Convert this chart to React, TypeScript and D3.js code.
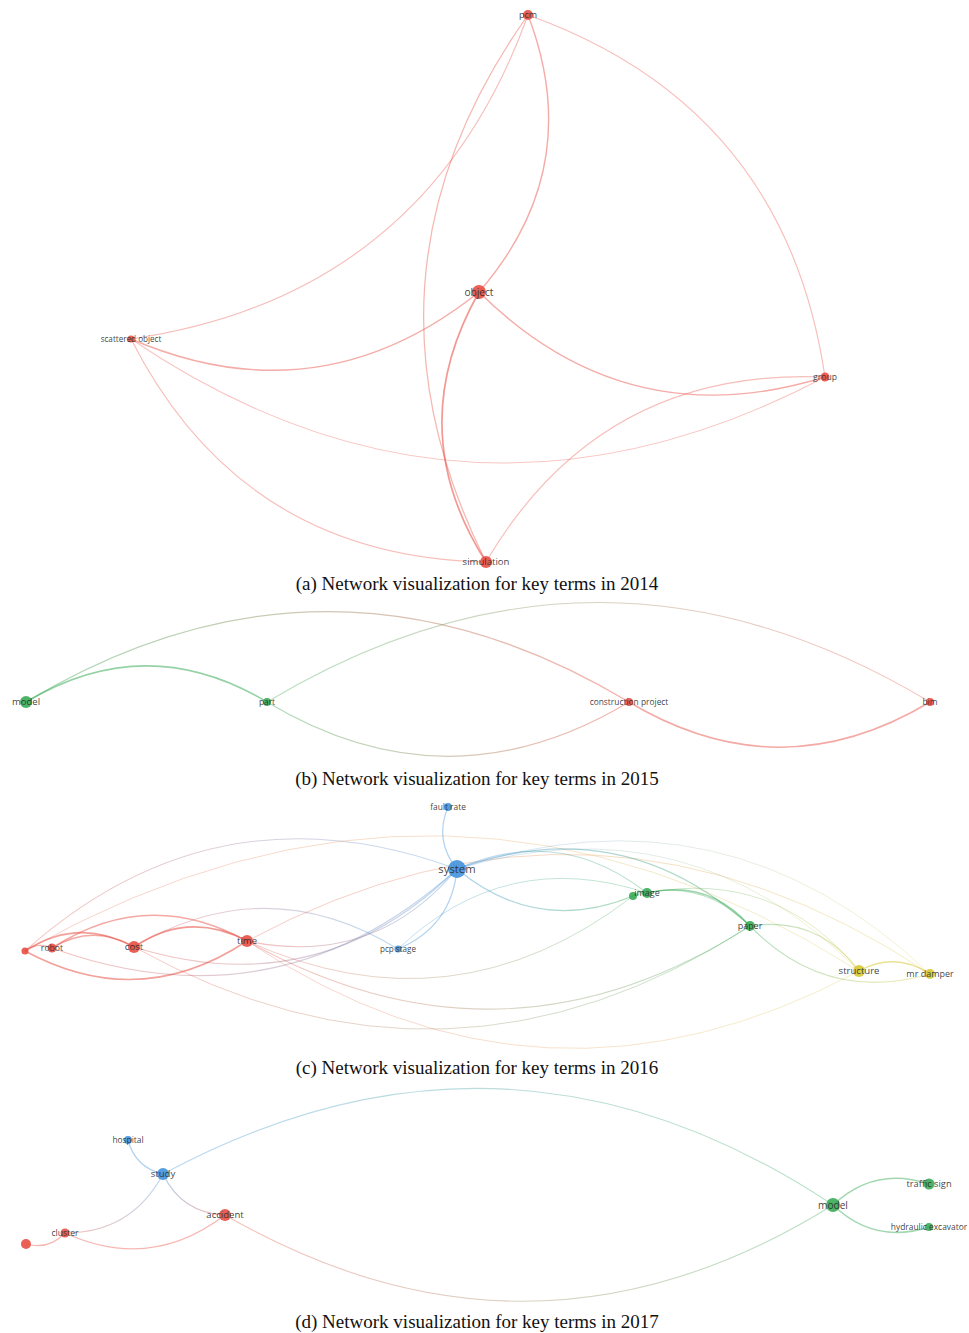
import React from 'react';
import * as d3 from 'd3';

const W = 969;
const H = 1333;

const CLUSTER_COLORS: Record<string, string> = {
  red: '#e84a3f',
  green: '#33a852',
  blue: '#3d8fd9',
  yellow: '#d6c62f',
};

// ---------- Panel (a) 2014 ----------
const termsA = ['pcm', 'object', 'scattered object', 'group', 'simulation'];
const labelsA = ['pcm', 'object', 'scattered object', 'group', 'simulation'];
const xA = [528, 479, 131, 825, 486];
const yA = [15, 292, 339, 377, 562];
const weightA = [2.8, 5.4, 1.4, 2.2, 4.0];
const clusterA = ['red', 'red', 'red', 'red', 'red'];
const linkSrcA = ['pcm', 'pcm', 'pcm', 'pcm', 'scattered object', 'scattered object', 'scattered object', 'object', 'object', 'simulation'];
const linkTgtA = ['scattered object', 'object', 'group', 'simulation', 'object', 'group', 'simulation', 'group', 'simulation', 'group'];
const linkBendA = [-1, -1, -1, 1, 1, 1, 1, 1, 1, -1];
const linkStrA = [1, 1.5, 1, 1.2, 1.5, 0.8, 1, 1.5, 2, 1];

// ---------- Panel (b) 2015 ----------
const termsB = ['model', 'part', 'construction project', 'bim'];
const labelsB = ['model', 'part', 'construction project', 'bim'];
const xB = [26, 267, 629, 930];
const yB = [102, 102, 102, 102];
const weightB = [4.0, 1.8, 1.8, 1.8];
const clusterB = ['green', 'green', 'red', 'red'];
const linkSrcB = ['model', 'model', 'part', 'part', 'construction project'];
const linkTgtB = ['part', 'construction project', 'bim', 'construction project', 'bim'];
const linkBendB = [-1, -1, -1, 1, 1];
const linkStrB = [1.8, 1.3, 0.9, 1.2, 1.6];

// ---------- Panel (c) 2016 ----------
const termsC = ['n0', 'robot', 'cost', 'time', 'pcp stage', 'fault rate', 'system', 'n7', 'image', 'paper', 'structure', 'mr damper'];
const labelsC = ['', 'robot', 'cost', 'time', 'pcp stage', 'fault rate', 'system', '', 'image', 'paper', 'structure', 'mr damper'];
const xC = [25, 52, 134, 247, 398, 448, 457, 633, 647, 750, 859, 930];
const yC = [161, 158, 157, 151, 159, 17, 79, 106, 103, 136, 181, 184];
const weightC = [1.4, 2.2, 4.0, 4.0, 1.4, 1.8, 9.0, 1.8, 2.8, 2.8, 4.0, 2.8];
const clusterC = ['red', 'red', 'red', 'red', 'blue', 'blue', 'blue', 'green', 'green', 'green', 'yellow', 'yellow'];
const linkSrcC = [
  'n0', 'n0', 'n0', 'robot', 'robot', 'cost',
  'n0', 'robot', 'cost', 'time', 'cost',
  'time', 'time', 'cost', 'n0', 'time', 'time',
  'fault rate', 'system', 'system', 'system', 'system', 'pcp stage',
  'image', 'n7', 'image', 'system', 'system', 'paper', 'paper', 'structure', 'n7',
];
const linkTgtC = [
  'robot', 'cost', 'time', 'cost', 'time', 'time',
  'system', 'system', 'system', 'system', 'pcp stage',
  'n7', 'paper', 'paper', 'structure', 'mr damper', 'structure',
  'system', 'pcp stage', 'n7', 'paper', 'image', 'image',
  'paper', 'paper', 'structure', 'structure', 'mr damper', 'structure', 'mr damper', 'mr damper', 'image',
];
const linkBendC = [
  -1, -1, 1, -1, -1, -1,
  -1, 1, 1, 1, -1,
  1, 1, 1, -1, -1, 1,
  1, -1, 1, -1, -1, -1,
  -1, -1, -1, -1, -1, -1, 1, -1, -1,
];
const linkStrC = [
  1.2, 1.8, 1.8, 1.6, 1.6, 2.0,
  0.8, 0.9, 0.9, 1.0, 0.8,
  0.7, 0.8, 0.7, 0.6, 0.7, 0.6,
  1.2, 1.2, 1.2, 1.2, 0.9, 0.7,
  1.6, 1.0, 0.7, 0.5, 0.5, 1.0, 1.0, 1.8, 1.0,
];

// ---------- Panel (d) 2017 ----------
const termsD = ['hospital', 'study', 'accident', 'cluster', 'n4', 'model', 'traffic sign', 'hydraulic excavator'];
const labelsD = ['hospital', 'study', 'accident', 'cluster', '', 'model', 'traffic sign', 'hydraulic excavator'];
const xD = [128, 163, 225, 65, 26, 833, 929, 929];
const yD = [60, 94, 135, 153, 164, 125, 104, 147];
const weightD = [1.8, 4.0, 4.0, 2.2, 2.8, 5.4, 3.4, 1.8];
const clusterD = ['blue', 'blue', 'red', 'red', 'red', 'green', 'green', 'green'];
const linkSrcD = ['hospital', 'study', 'study', 'study', 'cluster', 'n4', 'accident', 'model', 'model'];
const linkTgtD = ['study', 'model', 'cluster', 'accident', 'accident', 'cluster', 'model', 'traffic sign', 'hydraulic excavator'];
const linkBendD = [1, -1, -1, 1, 1, 1, 1, -1, 1];
const linkStrD = [1.2, 0.9, 1.0, 1.2, 1.2, 1.2, 0.9, 1.5, 1.5];

// ---------- Captions ----------
const captions = [
  '(a) Network visualization for key terms in 2014',
  '(b) Network visualization for key terms in 2015',
  '(c) Network visualization for key terms in 2016',
  '(d) Network visualization for key terms in 2017',
];
const captionY = [590, 785, 1074, 1328];
const panelTop = [0, 600, 790, 1080];
const panelH = [575, 180, 275, 230];

const CURVE = 0.3;

const radius = d3.scaleSqrt().domain([0, 10]).range([0, 9.5]);
const fontSize = d3.scaleSqrt().domain([1, 10]).range([7.8, 11.6]);

type PanelSpec = {
  id: string;
  terms: string[];
  labels: string[];
  xs: number[];
  ys: number[];
  weights: number[];
  clusters: string[];
  src: string[];
  tgt: string[];
  bend: number[];
  str: number[];
};

const panels: PanelSpec[] = [
  { id: 'a', terms: termsA, labels: labelsA, xs: xA, ys: yA, weights: weightA, clusters: clusterA, src: linkSrcA, tgt: linkTgtA, bend: linkBendA, str: linkStrA },
  { id: 'b', terms: termsB, labels: labelsB, xs: xB, ys: yB, weights: weightB, clusters: clusterB, src: linkSrcB, tgt: linkTgtB, bend: linkBendB, str: linkStrB },
  { id: 'c', terms: termsC, labels: labelsC, xs: xC, ys: yC, weights: weightC, clusters: clusterC, src: linkSrcC, tgt: linkTgtC, bend: linkBendC, str: linkStrC },
  { id: 'd', terms: termsD, labels: labelsD, xs: xD, ys: yD, weights: weightD, clusters: clusterD, src: linkSrcD, tgt: linkTgtD, bend: linkBendD, str: linkStrD },
];

function Panel({ spec, index }: { spec: PanelSpec; index: number }) {
  const xScale = d3.scaleLinear().domain([0, W]).range([0, W]);
  const yScale = d3.scaleLinear().domain([0, panelH[index]]).range([panelTop[index], panelTop[index] + panelH[index]]);
  const nodes = spec.terms.map((t, i) => ({
    id: t,
    label: spec.labels[i],
    x: xScale(spec.xs[i]),
    y: yScale(spec.ys[i]),
    r: radius(spec.weights[i]),
    fs: fontSize(spec.weights[i]),
    color: CLUSTER_COLORS[spec.clusters[i]],
  }));
  const byId = new Map(nodes.map((n) => [n.id, n]));
  const links = spec.src.map((s, i) => {
    const a = byId.get(s)!;
    const b = byId.get(spec.tgt[i])!;
    const dx = b.x - a.x;
    const dy = b.y - a.y;
    const len = Math.hypot(dx, dy);
    const nx = -dy / len;
    const ny = dx / len;
    const mx = (a.x + b.x) / 2;
    const my = (a.y + b.y) / 2;
    const cx = mx + spec.bend[i] * CURVE * len * nx;
    const cy = my + spec.bend[i] * CURVE * len * ny;
    const p = d3.path();
    p.moveTo(a.x, a.y);
    p.quadraticCurveTo(cx, cy, b.x, b.y);
    return { a, b, d: p.toString(), s: spec.str[i], gid: `g-${spec.id}-${i}` };
  });
  return (
    <g>
      <defs>
        {links.map((l) => (
          <linearGradient key={l.gid} id={l.gid} gradientUnits="userSpaceOnUse" x1={l.a.x} y1={l.a.y} x2={l.b.x} y2={l.b.y}>
            <stop offset="0%" stopColor={l.a.color} />
            <stop offset="100%" stopColor={l.b.color} />
          </linearGradient>
        ))}
      </defs>
      <g fill="none">
        {links.map((l) => (
          <path
            key={l.gid}
            d={l.d}
            stroke={`url(#${l.gid})`}
            strokeWidth={0.6 + 0.55 * l.s}
            strokeOpacity={Math.min(0.7, 0.16 + 0.2 * l.s)}
          />
        ))}
      </g>
      <g>
        {nodes.map((n) => (
          <circle key={n.id} cx={n.x} cy={n.y} r={n.r} fill={n.color} fillOpacity={0.88} />
        ))}
      </g>
      <g fontFamily="'Open Sans', 'Noto Sans', sans-serif" fill="#2b2b2b" textAnchor="middle">
        {nodes
          .filter((n) => n.label)
          .map((n) => (
            <text key={n.id} x={n.x} y={n.y} dy="0.35em" fontSize={n.fs} fillOpacity={0.9}>
              {n.label}
            </text>
          ))}
      </g>
    </g>
  );
}

export default function App() {
  return (
    <svg
      width={W}
      height={H}
      viewBox={`0 0 ${W} ${H}`}
      style={{ position: 'absolute', left: 0, top: 0, background: '#fff' }}
    >
      <rect x={0} y={0} width={W} height={H} fill="#fff" />
      {panels.map((p, i) => (
        <Panel key={p.id} spec={p} index={i} />
      ))}
      <g fontFamily="'Liberation Serif', 'Times New Roman', serif" fontSize={19} fill="#111" textAnchor="middle">
        {captions.map((c, i) => (
          <text key={c} x={477} y={captionY[i]}>
            {c}
          </text>
        ))}
      </g>
    </svg>
  );
}
